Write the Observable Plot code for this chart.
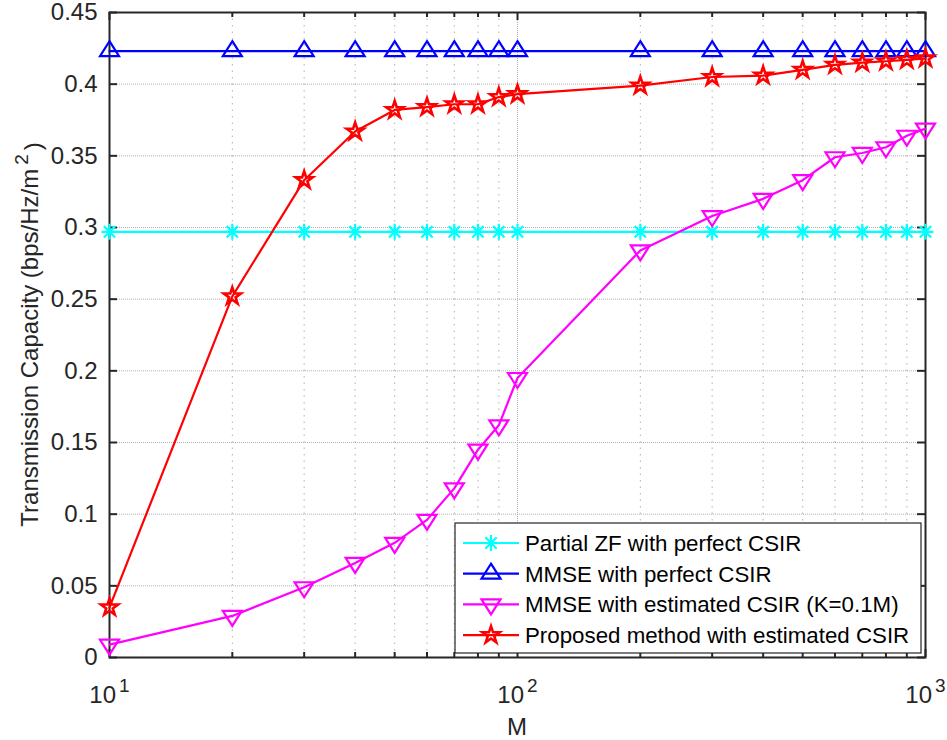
<!DOCTYPE html>
<html>
<head>
<meta charset="utf-8">
<script src="https://cdn.jsdelivr.net/npm/d3@7"></script>
<script src="https://cdn.jsdelivr.net/npm/@observablehq/plot@0.6"></script>
<style>
  body { margin: 0; background: #fff; }
  #chart svg { display: block; background: #fff; }
</style>
</head>
<body>
<div id="chart"></div>
<script>
// ---------- data ----------
const M = [10, 20, 30, 40, 50, 60, 70, 80, 90, 100, 200, 300, 400, 500, 600, 700, 800, 900, 1000];
const partialZFPerfect = [0.297, 0.297, 0.297, 0.297, 0.297, 0.297, 0.297, 0.297, 0.297, 0.297, 0.297, 0.297, 0.297, 0.297, 0.297, 0.297, 0.297, 0.297, 0.297];
const mmsePerfect = [0.423, 0.423, 0.423, 0.423, 0.423, 0.423, 0.423, 0.423, 0.423, 0.423, 0.423, 0.423, 0.423, 0.423, 0.423, 0.423, 0.423, 0.423, 0.423];
const mmseEstimated = [0.009, 0.029, 0.049, 0.066, 0.080, 0.096, 0.118, 0.145, 0.162, 0.195, 0.284, 0.308, 0.320, 0.333, 0.349, 0.352, 0.356, 0.364, 0.369];
const proposedEstimated = [0.035, 0.252, 0.333, 0.367, 0.382, 0.384, 0.386, 0.386, 0.391, 0.393, 0.399, 0.405, 0.406, 0.410, 0.4135, 0.415, 0.416, 0.417, 0.418];

const seriesNames = [
  "Partial ZF with perfect CSIR",
  "MMSE with perfect CSIR",
  "MMSE with estimated CSIR (K=0.1M)",
  "Proposed method with estimated CSIR"
];
const seriesColors = ["#00FFFF", "#0000FF", "#FF00FF", "#FF0000"];

const yTicks = [0, 0.05, 0.1, 0.15, 0.2, 0.25, 0.3, 0.35, 0.4, 0.45];
const xMajorTicks = [10, 100, 1000];
const xTickBase = "10";
const xTickExponents = ["1", "2", "3"];
const xMinorTicks = [20, 30, 40, 50, 60, 70, 80, 90, 200, 300, 400, 500, 600, 700, 800, 900];
const xLabel = "M";
const yLabelMain = "Transmission Capacity (bps/Hz/m";
const yLabelSup = "2";
const yLabelEnd = ")";

// ---------- marker shapes (MATLAB-like) ----------
const symAsterisk = {draw(c, size) {
  const r = Math.sqrt(size / Math.PI), d = r * Math.SQRT1_2;
  c.moveTo(-r, 0); c.lineTo(r, 0); c.moveTo(0, -r); c.lineTo(0, r);
  c.moveTo(-d, -d); c.lineTo(d, d); c.moveTo(-d, d); c.lineTo(d, -d);
}};
const symTriUp = {draw(c, size) {
  const r = Math.sqrt(size / Math.PI);
  c.moveTo(0, -r); c.lineTo(0.95 * r, 0.5 * r); c.lineTo(-0.95 * r, 0.5 * r); c.closePath();
}};
const symTriDown = {draw(c, size) {
  const r = Math.sqrt(size / Math.PI);
  c.moveTo(0, r); c.lineTo(0.95 * r, -0.5 * r); c.lineTo(-0.95 * r, -0.5 * r); c.closePath();
}};
const symStar = {draw(c, size) {
  const R = Math.sqrt(size / Math.PI), ri = R * 0.382;
  for (let k = 0; k < 10; k++) {
    const a = -Math.PI / 2 + k * Math.PI / 5, rr = k % 2 ? ri : R;
    const px = rr * Math.cos(a), py = rr * Math.sin(a);
    k ? c.lineTo(px, py) : c.moveTo(px, py);
  }
  c.closePath();
}};
const seriesSymbols = [symAsterisk, symTriUp, symTriDown, symStar];
const seriesValues = [partialZFPerfect, mmsePerfect, mmseEstimated, proposedEstimated];
const markerR = [8, 10, 10, 9];
const markerStroke = [2.2, 2.2, 2.2, 2.6];

// ---------- layout ----------
const W = 947, H = 740;
const mL = 109, mR = 22, mT = 12, mB = 83;
const innerW = W - mL - mR, innerH = H - mT - mB;
const axisColor = "#262626";
const gridColor = "#b0b0b0";
const fontFamily = "'Liberation Sans', Arial, Helvetica, sans-serif";

const tables = seriesValues.map(vals => M.map((m, i) => ({M: m, value: vals[i]})));

const marks = [
  // grid
  Plot.ruleY(yTicks.filter(d => d > 0 && d < 0.45), {y: d => d, stroke: gridColor, strokeDasharray: "1,1", strokeWidth: 1}),
  Plot.ruleX(xMinorTicks, {x: d => d, stroke: gridColor, strokeDasharray: "1.5,5", strokeWidth: 1}),
  Plot.ruleX(xMajorTicks.filter(d => d > 10 && d < 1000), {x: d => d, stroke: gridColor, strokeDasharray: "1,1", strokeWidth: 1}),
  // inward ticks
  Plot.tickY(yTicks, {y: d => d, insetRight: innerW - 8, stroke: axisColor, strokeWidth: 2}),
  Plot.tickY(yTicks, {y: d => d, insetLeft: innerW - 8, stroke: axisColor, strokeWidth: 2}),
  Plot.tickX(xMajorTicks, {x: d => d, insetTop: innerH - 8, stroke: axisColor, strokeWidth: 2}),
  Plot.tickX(xMajorTicks, {x: d => d, insetBottom: innerH - 8, stroke: axisColor, strokeWidth: 2}),
  Plot.tickX(xMinorTicks, {x: d => d, insetTop: innerH - 5, stroke: axisColor, strokeWidth: 2}),
  Plot.tickX(xMinorTicks, {x: d => d, insetBottom: innerH - 5, stroke: axisColor, strokeWidth: 2}),
  Plot.frame({stroke: axisColor, strokeWidth: 2}),
  // axes labels
  Plot.axisY({ticks: yTicks, tickSize: 0, tickPadding: 12, fontSize: 24, label: null,
              tickFormat: d => String(+d.toFixed(2)), fill: axisColor}),
  Plot.axisX({ticks: xMajorTicks, tickSize: 0, tickPadding: 28, fontSize: 24, label: null,
              tickFormat: () => xTickBase, fill: axisColor})
];

tables.forEach((t, i) => {
  marks.push(Plot.line(t, {x: "M", y: "value", stroke: seriesColors[i], strokeWidth: 2.2}));
  marks.push(Plot.dot(t, {x: "M", y: "value", symbol: seriesSymbols[i], r: markerR[i],
                          stroke: seriesColors[i], fill: "none", strokeWidth: markerStroke[i]}));
});

const svg = Plot.plot({
  width: W, height: H,
  marginLeft: mL, marginRight: mR, marginTop: mT, marginBottom: mB,
  style: {fontFamily, background: "#fff", overflow: "visible"},
  x: {type: "log", domain: [10, 1000]},
  y: {domain: [0, 0.45]},
  marks
});

const root = d3.select(svg);

// superscript exponents on x tick labels
root.selectAll('g[aria-label="x-axis tick label"] text').each(function(_, i) {
  d3.select(this).append("tspan").attr("dy", "-0.55em").attr("dx", "3").attr("font-size", 19).text(xTickExponents[i]);
});

// axis titles
root.append("text")
  .attr("x", mL + innerW / 2).attr("y", 735)
  .attr("text-anchor", "middle").attr("font-size", 24).attr("fill", axisColor)
  .attr("font-family", fontFamily)
  .text(xLabel);

const yl = root.append("text")
  .attr("transform", `translate(38,${mT + innerH / 2}) rotate(-90)`)
  .attr("text-anchor", "middle").attr("font-size", 24).attr("fill", axisColor)
  .attr("font-family", fontFamily);
yl.append("tspan").text(yLabelMain);
yl.append("tspan").attr("dx", "4").attr("dy", "-0.55em").attr("font-size", 19).text(yLabelSup);
yl.append("tspan").attr("dx", "4").attr("dy", "0.55em").text(yLabelEnd);

// legend
const lg = root.append("g").attr("font-family", fontFamily).attr("text-anchor", "start");
const lx = 455, ly = 523, lw = 466, lh = 130;
lg.append("rect").attr("x", lx).attr("y", ly).attr("width", lw).attr("height", lh)
  .attr("fill", "#fff").attr("stroke", axisColor).attr("stroke-width", 1.2);
seriesNames.forEach((name, i) => {
  const cy = 543 + i * 30.7;
  lg.append("line").attr("x1", 463).attr("x2", 519).attr("y1", cy).attr("y2", cy)
    .attr("stroke", seriesColors[i]).attr("stroke-width", 2.2);
  lg.append("path").attr("transform", `translate(491,${cy})`)
    .attr("d", d3.symbol(seriesSymbols[i], Math.PI * markerR[i] * markerR[i])())
    .attr("fill", "none").attr("stroke", seriesColors[i]).attr("stroke-width", markerStroke[i]);
  lg.append("text").attr("x", 525).attr("y", cy).attr("dy", "0.35em")
    .attr("text-anchor", "start").attr("font-size", 22.3).attr("fill", "#000").text(name);
});

document.getElementById("chart").appendChild(svg);
</script>
</body>
</html>
